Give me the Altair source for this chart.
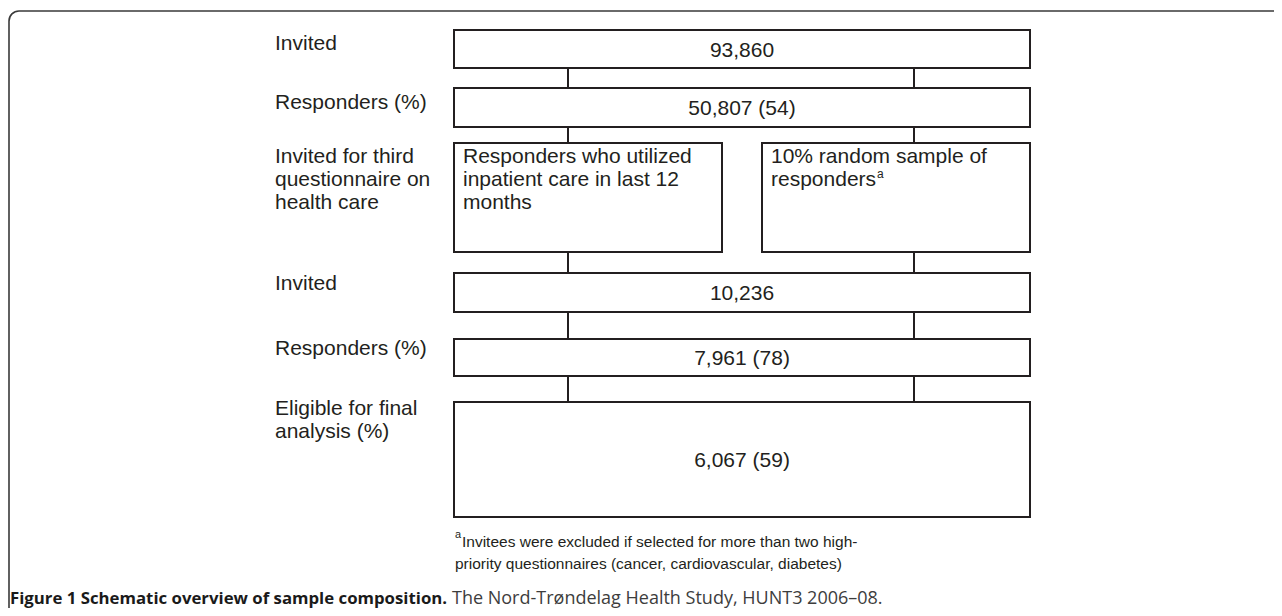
import altair as alt
import pandas as pd

# ---------------- content ----------------
stage_labels = [
    ["Invited"],
    ["Responders (%)"],
    ["Invited for third", "questionnaire on", "health care"],
    ["Invited"],
    ["Responders (%)"],
    ["Eligible for final", "analysis (%)"],
]
stage_counts = ["93,860", "50,807 (54)", "", "10,236", "7,961 (78)", "6,067 (59)"]
branch_texts = [
    ["Responders who utilized", "inpatient care in last 12", "months"],
    ["10% random sample of", "responders"],
]
branch_superscript = "a"
footnote_mark = "a"
footnote_lines = [
    "Invitees were excluded if selected for more than two high-",
    "priority questionnaires (cancer, cardiovascular, diabetes)",
]
caption_bold = "Figure 1 Schematic overview of sample composition."
caption_rest = "The Nord-Trøndelag Health Study, HUNT3 2006–08."

# ---------------- layout (diagram geometry, px) ----------------
row_top = [30, 88, 143, 273, 339, 402]
row_bottom = [68, 127, 252, 312, 376, 517]
label_first_baseline = [50, 109, 163, 290, 355, 415]
count_baseline = [57, 115, 0, 300, 365, 467]
line_step = 23
box_left, box_right = 454, 1030
branch_left = [454, 762]
branch_right = [722, 1030]
branch_pad = 9
connector_x = [568, 914]
label_x = 275
INK = "#231f20"
FONT = "Liberation Sans"

W, H = 1266, 600
xs = alt.Scale(domain=[8, 8 + W], nice=False, zero=False)
ys = alt.Scale(domain=[8, 8 + H], nice=False, zero=False, reverse=True)


def X(f):
    return alt.X(f, type="quantitative", scale=xs, axis=None)


def Y(f):
    return alt.Y(f, type="quantitative", scale=ys, axis=None)


# boxes
boxes = []
for i in range(len(row_top)):
    if i == 2:
        for bl, br in zip(branch_left, branch_right):
            boxes.append(dict(x=bl, x2=br, y=row_top[i], y2=row_bottom[i]))
    else:
        boxes.append(dict(x=box_left, x2=box_right, y=row_top[i], y2=row_bottom[i]))
boxes = pd.DataFrame(boxes)

# connectors
conns = []
for i in range(len(row_top) - 1):
    for cx in connector_x:
        conns.append(dict(x=cx, y=row_bottom[i], y2=row_top[i + 1]))
conns = pd.DataFrame(conns)

# stage labels
lab = []
for i, lines in enumerate(stage_labels):
    for j, t in enumerate(lines):
        lab.append(dict(x=label_x, y=label_first_baseline[i] + j * line_step, t=t))
lab = pd.DataFrame(lab)

# counts
cnt = []
for i, t in enumerate(stage_counts):
    if t:
        cnt.append(dict(x=(box_left + box_right) / 2, y=count_baseline[i], t=t))
cnt = pd.DataFrame(cnt)

# branch texts
br = []
for k, lines in enumerate(branch_texts):
    for j, t in enumerate(lines):
        br.append(dict(x=branch_left[k] + branch_pad, y=label_first_baseline[2] + j * line_step, t=t))
br = pd.DataFrame(br)

sup = pd.DataFrame([dict(x=877, y=label_first_baseline[2] + line_step - 8, t=branch_superscript)])

foot = pd.DataFrame([
    dict(x=462, y=547, t=footnote_lines[0]),
    dict(x=455, y=569, t=footnote_lines[1]),
])
foot_mark = pd.DataFrame([dict(x=455, y=538, t=footnote_mark)])

cap_b = pd.DataFrame([dict(x=10, y=604, t=caption_bold)])
cap_r = pd.DataFrame([dict(x=452, y=604, t=caption_rest)])

frame = pd.DataFrame([dict(x=9, x2=1300, y=11, y2=640)])

layers = []
layers.append(
    alt.Chart(frame).mark_rect(fill=None, stroke="#3a3a3a", strokeWidth=1.6,
                               cornerRadiusTopLeft=10, clip=True)
    .encode(x=X("x"), x2="x2", y=Y("y"), y2="y2")
)
layers.append(
    alt.Chart(conns).mark_rule(stroke=INK, strokeWidth=2)
    .encode(x=X("x"), y=Y("y"), y2="y2")
)
layers.append(
    alt.Chart(boxes).mark_rect(fill="white", stroke=INK, strokeWidth=2)
    .encode(x=X("x"), x2="x2", y=Y("y"), y2="y2")
)
text_kw = dict(font=FONT, fontSize=21, color=INK, baseline="alphabetic")
layers.append(alt.Chart(lab).mark_text(align="left", **text_kw)
              .encode(x=X("x"), y=Y("y"), text="t:N"))
layers.append(alt.Chart(cnt).mark_text(align="center", **text_kw)
              .encode(x=X("x"), y=Y("y"), text="t:N"))
layers.append(alt.Chart(br).mark_text(align="left", **text_kw)
              .encode(x=X("x"), y=Y("y"), text="t:N"))
layers.append(alt.Chart(sup).mark_text(align="left", font=FONT, fontSize=12, color=INK,
                                       baseline="alphabetic")
              .encode(x=X("x"), y=Y("y"), text="t:N"))
layers.append(alt.Chart(foot).mark_text(align="left", font=FONT,
                                        fontSize=15.5, color=INK, baseline="alphabetic")
              .encode(x=X("x"), y=Y("y"), text="t:N"))
layers.append(alt.Chart(foot_mark).mark_text(align="left", font=FONT,
                                             fontSize=11, color=INK, baseline="alphabetic")
              .encode(x=X("x"), y=Y("y"), text="t:N"))
layers.append(alt.Chart(cap_b).mark_text(align="left", font="Open Sans", fontSize=16.8, fontWeight="bold",
                                         color="#1a1a1a", baseline="alphabetic")
              .encode(x=X("x"), y=Y("y"), text="t:N"))
layers.append(alt.Chart(cap_r).mark_text(align="left", font="Open Sans", fontSize=18, fontWeight=400,
                                         color="#3d3d3d", baseline="alphabetic")
              .encode(x=X("x"), y=Y("y"), text="t:N"))

chart = (
    alt.layer(*layers)
    .properties(width=W, height=H, padding=0, autosize=alt.AutoSizeParams(type="none"))
    .configure_view(stroke=None)
)

chart.save("out.html", embed_options={"renderer": "svg", "actions": False})
